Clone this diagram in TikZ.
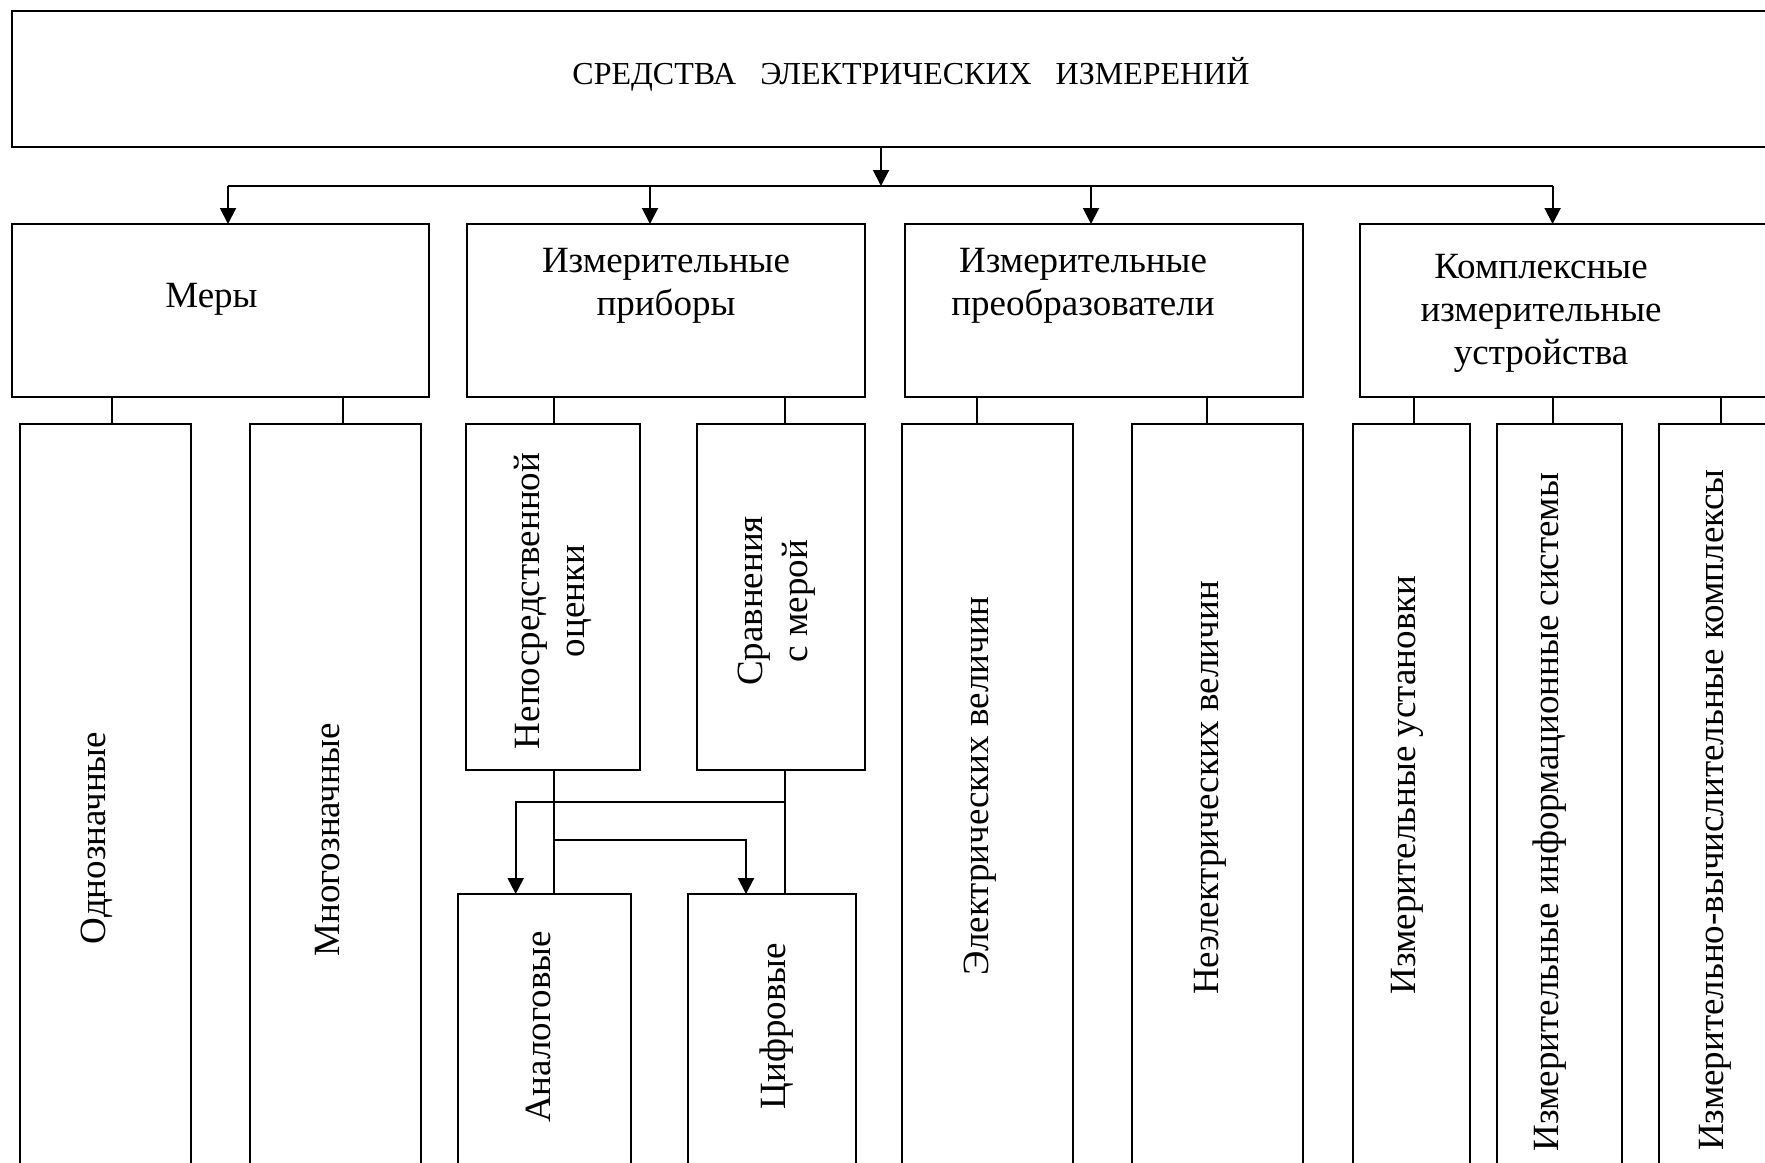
\documentclass[tikz,border=0pt]{standalone}
\usepackage{fontspec}
\setmainfont{Liberation Serif}
\usetikzlibrary{arrows.meta}
\tikzset{
  box/.style={draw, line width=1pt, inner sep=0pt, outer sep=0pt},
  lbl/.style={font=\fontsize{18.5pt}{21.5pt}\selectfont, align=center, inner sep=0pt, outer sep=0pt},
  vlbl/.style={lbl, rotate=90, font=\fontsize{18.5pt}{22.5pt}\selectfont},
  conn/.style={line width=1pt},
  arr/.style={conn, -{Triangle[length=8pt,width=8pt]}},
}
\newcommand{\mybox}[5]{\node[box, minimum width={(#4-#2)*0.5pt}, minimum height={(#5-#3)*0.5pt}] (#1) at ({(#2+#4)/2},{(#3+#5)/2}) {};}
\begin{document}
\begin{tikzpicture}[x={(0.5pt,0)}, y={(0,-0.5pt)}]
\useasboundingbox (0,0) rectangle (1765,1162);
\fill[white] (0,0) rectangle (1765,1162);
\clip (0,0) rectangle (1765,1162);
% boxes
\mybox{top}{11.5}{10.5}{1810.5}{146.7}
\mybox{mery}{11.5}{224}{429}{397}
\mybox{pri}{467}{224}{864.5}{397}
\mybox{pre}{905}{224}{1303}{397}
\mybox{kom}{1360}{224}{1810}{397}
\mybox{odn}{20}{424}{190.7}{1200}
\mybox{mno}{250}{424}{421}{1200}
\mybox{nep}{466}{424}{640}{770}
\mybox{srv}{696.7}{424}{865}{770}
\mybox{ana}{457.7}{894}{630.7}{1200}
\mybox{cif}{688.3}{894}{855.7}{1200}
\mybox{el}{902}{424}{1073}{1200}
\mybox{nel}{1132}{424}{1303}{1200}
\mybox{ust}{1353}{424}{1470}{1200}
\mybox{iis}{1497}{424}{1622}{1200}
\mybox{ivk}{1659}{424}{1810}{1200}
% texts
\node[lbl, anchor=base, font=\fontsize{16pt}{19pt}\selectfont] (ttop) at (911,84) {СРЕДСТВА\hspace{0.75em}ЭЛЕКТРИЧЕСКИХ\hspace{0.75em}ИЗМЕРЕНИЙ};
\node[lbl, anchor=base] (tmery) at (211.5,307) {Меры};
\node[lbl, anchor=north] (tpri) at (666,248) {Измерительные\\приборы};
\node[lbl, anchor=north] (tpre) at (1083,248) {Измерительные\\преобразователи};
\node[lbl, anchor=north] (tkom) at (1541,254) {Комплексные\\измерительные\\устройства};
\node[vlbl] (todn) at (97,838) {Однозначные};
\node[vlbl] (tmno) at (328,840) {Многозначные};
\node[vlbl] (tnep) at (553,601) {Непосредственной\\оценки};
\node[vlbl] (tsrv) at (777,601) {Сравнения\\с мерой};
\node[vlbl] (tana) at (538,1027) {Аналоговые};
\node[vlbl] (tcif) at (777,1026) {Цифровые};
\node[vlbl] (tel) at (980,786) {Электрических величин};
\node[vlbl] (tnel) at (1210,788) {Неэлектрических величин};
\node[vlbl] (tust) at (1407,785) {Измерительные установки};
\node[vlbl] (tiis) at (1550,812) {Измерительные информационные системы};
\node[vlbl] (tivk) at (1715,810) {Измерительно-вычислительные комплексы};
% bus
\coordinate (hub) at (881,186);
\coordinate (b1) at (228,186);
\coordinate (b2) at (650,186);
\coordinate (b3) at (1091,186);
\coordinate (b4) at (1552.6,186);
\draw[arr] (hub |- top.south) -- (hub);
\draw[conn] (b1) -- (b4);
\draw[arr] (b1) -- (b1 |- mery.north);
\draw[arr] (b2) -- (b2 |- pri.north);
\draw[arr] (b3) -- (b3 |- pre.north);
\draw[arr] (b4) -- (b4 |- kom.north);
% connectors to third row
\draw[conn] (112,0 |- mery.south) -- (112,0 |- odn.north);
\draw[conn] (343,0 |- mery.south) -- (343,0 |- mno.north);
\draw[conn] (554,0 |- pri.south) -- (554,0 |- nep.north);
\draw[conn] (785,0 |- pri.south) -- (785,0 |- srv.north);
\draw[conn] (977,0 |- pre.south) -- (977,0 |- el.north);
\draw[conn] (1207,0 |- pre.south) -- (1207,0 |- nel.north);
\draw[conn] (1414,0 |- kom.south) -- (1414,0 |- ust.north);
\draw[conn] (1552.6,0 |- kom.south) -- (1552.6,0 |- iis.north);
\draw[conn] (1721,0 |- kom.south) -- (1721,0 |- ivk.north);
% instruments subtree
\draw[conn] (554,0 |- nep.south) -- (554,0 |- ana.north);
\draw[conn] (785,0 |- srv.south) -- (785,0 |- cif.north);
\coordinate (j1) at (785,802);
\coordinate (j2) at (554,840);
\draw[arr] (j1) -| (515.7,0 |- ana.north);
\draw[arr] (j2) -| (746,0 |- cif.north);
\end{tikzpicture}
\end{document}
